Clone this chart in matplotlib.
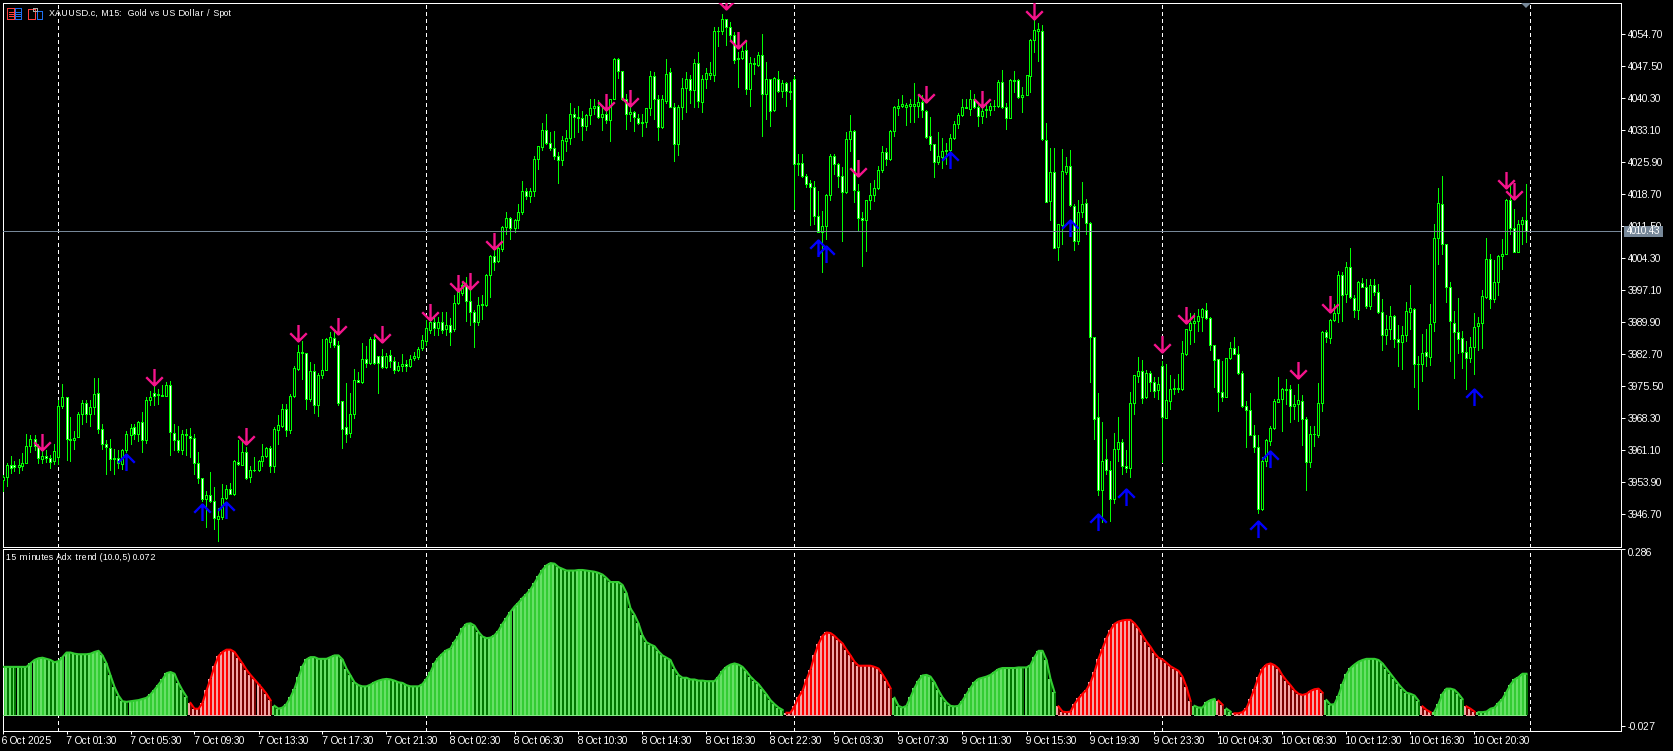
import numpy as np
import matplotlib
matplotlib.use("Agg")
import matplotlib.pyplot as plt
from matplotlib.path import Path
from matplotlib.patches import Rectangle, Polygon

W, H = 1674, 751

opens = [
    3954.4, 3955.1, 3957.9, 3957.9, 3957.4, 3957.6, 3958.3, 3962.1, 3963.7, 3962.1,
    3959.2, 3959.8, 3959.4, 3958.8, 3959.7, 3971.0, 3973.0, 3963.7, 3963.4, 3964.1,
    3969.3, 3971.8, 3969.3, 3970.9, 3974.0, 3966.0, 3962.5, 3961.6, 3959.2, 3959.5,
    3958.0, 3961.1, 3964.6, 3966.4, 3964.8, 3967.5, 3963.5, 3972.5, 3973.9, 3973.5,
    3973.4, 3973.3, 3975.9, 3965.1, 3963.5, 3961.3, 3964.9, 3964.4, 3964.0, 3958.3,
    3955.0, 3950.2, 3951.1, 3949.8, 3945.7, 3946.1, 3950.5, 3952.5, 3951.3, 3958.6,
    3957.9, 3960.8, 3955.1, 3956.6, 3956.8, 3958.8, 3959.8, 3961.7, 3957.6, 3965.7,
    3966.7, 3970.3, 3965.7, 3973.4, 3979.5, 3983.3, 3982.9, 3972.7, 3979.0, 3971.4,
    3978.1, 3979.2, 3985.5, 3986.4, 3984.9, 3972.1, 3966.4, 3965.0, 3969.4, 3977.0,
    3976.5, 3981.7, 3980.8, 3986.2, 3982.4, 3982.4, 3979.9, 3982.5, 3981.1, 3979.1,
    3980.0, 3980.6, 3980.1, 3981.9, 3982.2, 3984.1, 3985.7, 3988.1, 3989.9, 3988.6,
    3989.9, 3988.3, 3989.2, 3988.5, 3994.2, 3996.5, 3998.2, 3994.7, 3992.2, 3990.0,
    3993.9, 3993.7, 4000.6, 4004.7, 4003.6, 4006.3, 4011.4, 4013.4, 4011.1, 4012.9,
    4014.6, 4019.5, 4018.4, 4019.4, 4026.6, 4029.3, 4033.2, 4030.2, 4029.0, 4027.4,
    4026.4, 4030.7, 4031.4, 4036.8, 4036.1, 4035.9, 4034.1, 4036.5, 4038.0, 4038.6,
    4036.1, 4036.8, 4035.3, 4040.2, 4049.2, 4046.3, 4040.1, 4036.8, 4037.1, 4035.9,
    4034.6, 4035.0, 4038.0, 4045.2, 4040.0, 4033.8, 4039.7, 4046.1, 4038.3, 4029.9,
    4038.2, 4042.5, 4044.6, 4042.2, 4048.1, 4039.5, 4044.5, 4045.6, 4045.6, 4055.3,
    4055.4, 4058.0, 4056.3, 4054.5, 4049.0, 4049.4, 4051.2, 4042.4, 4048.3, 4047.8,
    4049.9, 4041.3, 4044.5, 4037.7, 4044.7, 4041.9, 4043.8, 4041.7, 4044.5, 4025.5,
    4025.8, 4022.7, 4021.3, 4020.3, 4013.9, 4010.2, 4011.6, 4018.5, 4027.2, 4025.4,
    4022.8, 4019.1, 4031.2, 4033.0, 4019.5, 4013.4, 4012.9, 4017.5, 4018.5, 4020.1,
    4024.1, 4028.3, 4026.7, 4032.8, 4038.1, 4038.6, 4038.4, 4038.6, 4038.6, 4038.6,
    4039.5, 4037.5, 4031.7, 4030.1, 4026.0, 4027.1, 4028.4, 4028.6, 4031.4, 4034.4,
    4036.4, 4038.1, 4037.9, 4040.2, 4038.2, 4036.3, 4037.6, 4037.6, 4038.5, 4038.5,
    4044.0, 4038.2, 4035.9, 4044.1, 4044.3, 4040.6, 4041.0, 4045.3, 4053.4, 4055.4,
    4055.5, 4031.0, 4017.2, 4023.8, 4006.8, 4011.7, 4023.8, 4025.1, 4016.1, 4008.2,
    4014.6, 4016.8, 4012.3, 3986.5, 3968.6, 3952.1, 3959.2, 3956.7, 3950.1, 3961.4,
    3963.0, 3957.6, 3957.1, 3971.7, 3977.9, 3979.0, 3973.0, 3978.6, 3976.5, 3974.7,
    3980.1, 3968.5, 3972.3, 3975.0, 3975.0, 3974.8, 3982.8, 3988.2, 3989.8, 3990.1,
    3991.2, 3992.7, 3990.9, 3984.9, 3981.6, 3974.3, 3973.1, 3981.8, 3984.2, 3982.8,
    3978.6, 3971.1, 3970.2, 3964.6, 3961.8, 3948.0, 3958.8, 3963.2, 3966.1, 3972.0,
    3972.6, 3974.7, 3975.0, 3971.1, 3971.5, 3972.2, 3968.2, 3958.5, 3964.7, 3964.5,
    3971.7, 3987.8, 3986.4, 3990.4, 3992.0, 4000.6, 3996.2, 4002.4, 3995.4, 3992.7,
    3998.8, 3997.9, 3993.5, 3998.3, 3996.8, 3992.2, 3987.0, 3988.4, 3991.4, 3986.2,
    3985.5, 3987.0, 3992.2, 3993.0, 3980.6, 3980.5, 3983.3, 3982.1, 3990.0, 4008.9,
    4016.6, 4007.4, 3997.8, 3989.7, 3987.8, 3986.4, 3983.2, 3981.9, 3984.3, 3989.1,
    3989.8, 3995.6, 4004.2, 3995.2, 3998.9, 4004.8, 4005.3, 4017.5, 4011.0, 4005.7,
    4012.1, 4012.8,
]
highs = [
    3955.5, 3958.2, 3959.8, 3958.8, 3959.2, 3960.6, 3964.9, 3964.5, 3964.5, 3962.6,
    3961.5, 3961.2, 3960.0, 3962.6, 3972.4, 3976.1, 3973.0, 3968.6, 3965.4, 3969.7,
    3972.5, 3972.5, 3972.4, 3977.4, 3977.4, 3967.1, 3963.5, 3963.7, 3961.5, 3961.1,
    3961.5, 3965.5, 3967.0, 3967.0, 3967.7, 3969.7, 3973.0, 3974.4, 3975.5, 3975.0,
    3975.7, 3976.5, 3976.8, 3967.1, 3966.7, 3965.7, 3966.0, 3966.2, 3964.9, 3960.8,
    3955.0, 3952.0, 3956.2, 3952.9, 3948.1, 3953.6, 3953.4, 3953.8, 3959.0, 3963.4,
    3963.4, 3961.9, 3957.7, 3959.7, 3958.9, 3962.6, 3961.9, 3962.2, 3966.4, 3969.0,
    3971.6, 3971.6, 3973.8, 3980.0, 3984.7, 3985.6, 3983.0, 3981.0, 3980.6, 3978.4,
    3986.2, 3986.4, 3987.7, 3987.7, 3985.6, 3972.2, 3976.2, 3973.9, 3979.5, 3978.7,
    3985.2, 3984.5, 3986.6, 3986.8, 3982.4, 3983.8, 3983.0, 3983.6, 3982.1, 3981.0,
    3982.7, 3981.5, 3982.5, 3983.2, 3984.4, 3987.0, 3990.4, 3990.4, 3991.0, 3991.0,
    3992.2, 3992.2, 3990.8, 3996.0, 3999.3, 3999.0, 4000.1, 3997.1, 3992.6, 3995.7,
    3996.0, 4000.8, 4005.0, 4006.1, 4006.8, 4011.6, 4014.6, 4013.6, 4013.2, 4016.6,
    4021.6, 4020.2, 4020.0, 4027.2, 4029.6, 4034.6, 4036.8, 4032.6, 4032.9, 4028.1,
    4031.7, 4033.1, 4039.2, 4038.0, 4038.6, 4037.5, 4036.8, 4040.2, 4040.1, 4039.8,
    4038.3, 4041.3, 4040.2, 4049.4, 4049.4, 4046.4, 4041.3, 4041.1, 4037.3, 4036.8,
    4036.8, 4038.0, 4046.4, 4046.1, 4041.0, 4041.0, 4049.2, 4047.0, 4039.1, 4038.7,
    4044.9, 4046.1, 4045.4, 4049.0, 4050.6, 4045.4, 4047.0, 4048.4, 4056.3, 4056.3,
    4059.2, 4058.2, 4057.5, 4055.2, 4050.7, 4052.2, 4053.3, 4049.6, 4049.4, 4050.7,
    4054.7, 4048.4, 4044.7, 4045.1, 4046.4, 4044.3, 4044.0, 4044.0, 4045.2, 4027.8,
    4027.8, 4023.3, 4021.8, 4021.7, 4019.4, 4014.9, 4018.8, 4027.7, 4027.7, 4025.8,
    4024.8, 4032.7, 4036.4, 4033.2, 4020.9, 4014.6, 4017.5, 4021.3, 4021.8, 4025.0,
    4029.5, 4029.0, 4033.2, 4038.5, 4040.2, 4041.1, 4039.1, 4040.0, 4043.6, 4041.3,
    4041.0, 4037.6, 4036.0, 4030.1, 4032.7, 4031.4, 4030.2, 4032.3, 4035.2, 4037.0,
    4040.0, 4040.1, 4042.1, 4041.3, 4039.1, 4039.5, 4039.5, 4039.1, 4039.8, 4044.3,
    4046.7, 4039.1, 4044.5, 4046.4, 4044.5, 4042.8, 4045.6, 4053.5, 4057.8, 4057.1,
    4056.7, 4034.6, 4029.0, 4029.0, 4012.1, 4028.8, 4027.1, 4028.6, 4016.4, 4017.3,
    4021.5, 4017.7, 4012.5, 3986.6, 3974.1, 3967.4, 3963.6, 3958.8, 3965.1, 3968.7,
    3963.7, 3961.3, 3974.3, 3978.1, 3982.0, 3981.5, 3979.1, 3978.9, 3977.7, 3977.6,
    3981.3, 3980.6, 3978.0, 3977.1, 3978.3, 3985.8, 3988.5, 3992.0, 3992.0, 3993.0,
    3993.2, 3994.3, 3991.1, 3984.9, 3981.7, 3981.1, 3981.9, 3985.5, 3986.7, 3984.6,
    3978.9, 3972.3, 3974.0, 3966.9, 3964.5, 3959.7, 3963.7, 3966.7, 3972.6, 3977.7,
    3975.1, 3977.1, 3975.7, 3973.5, 3976.1, 3973.5, 3968.6, 3966.6, 3966.7, 3976.2,
    3987.9, 3988.1, 3990.7, 3994.1, 4001.4, 4001.2, 4003.5, 4006.7, 3996.0, 3999.2,
    3999.9, 3999.7, 3999.7, 3999.7, 3998.6, 3995.2, 3991.5, 3993.5, 3991.5, 3989.4,
    3989.0, 3994.4, 3998.2, 3993.2, 3982.4, 3987.2, 3988.4, 3994.1, 4011.9, 4020.0,
    4022.9, 4007.6, 3998.9, 3992.4, 3995.3, 3987.9, 3985.8, 3986.7, 3992.1, 3991.1,
    3997.1, 4008.9, 4005.2, 4003.8, 4005.0, 4008.6, 4017.7, 4021.1, 4015.4, 4013.0,
    4013.6, 4020.9,
]
lows = [
    3952.0, 3953.0, 3956.0, 3956.4, 3956.0, 3956.8, 3958.3, 3960.7, 3961.1, 3958.2,
    3958.3, 3958.5, 3957.1, 3958.0, 3958.1, 3970.7, 3959.0, 3958.7, 3961.5, 3964.1,
    3967.1, 3967.5, 3966.5, 3969.4, 3965.0, 3961.5, 3955.8, 3956.7, 3955.8, 3957.2,
    3957.0, 3960.7, 3962.6, 3963.7, 3963.2, 3960.7, 3962.7, 3971.2, 3971.2, 3971.6,
    3973.3, 3973.3, 3960.0, 3961.2, 3960.7, 3960.2, 3960.0, 3959.6, 3955.9, 3953.8,
    3949.7, 3943.9, 3949.5, 3943.5, 3940.7, 3945.7, 3950.2, 3951.2, 3951.0, 3957.9,
    3957.9, 3954.7, 3954.0, 3956.4, 3956.4, 3957.5, 3959.6, 3956.2, 3956.2, 3962.6,
    3966.4, 3964.3, 3965.0, 3973.1, 3979.2, 3977.2, 3970.3, 3972.3, 3969.5, 3968.8,
    3977.4, 3979.1, 3984.4, 3984.4, 3971.4, 3961.6, 3963.0, 3964.2, 3968.4, 3976.5,
    3976.3, 3979.9, 3980.6, 3980.6, 3974.0, 3979.7, 3979.7, 3979.9, 3978.4, 3978.9,
    3978.9, 3978.9, 3979.9, 3981.4, 3981.7, 3983.6, 3984.8, 3987.5, 3987.0, 3987.0,
    3987.5, 3987.0, 3984.8, 3988.0, 3994.0, 3996.0, 3990.3, 3989.2, 3984.3, 3989.2,
    3990.7, 3993.5, 3995.6, 4001.7, 4003.5, 4005.9, 4009.8, 4008.6, 4010.2, 4011.2,
    4014.3, 4017.7, 4016.9, 4018.4, 4024.3, 4028.6, 4029.9, 4028.6, 4026.7, 4021.2,
    4025.2, 4028.4, 4029.9, 4031.6, 4032.7, 4030.8, 4033.1, 4034.4, 4036.8, 4035.9,
    4033.1, 4034.6, 4030.7, 4040.0, 4044.9, 4039.8, 4033.3, 4035.2, 4033.0, 4034.4,
    4031.7, 4033.8, 4036.5, 4035.6, 4030.8, 4033.6, 4039.1, 4038.2, 4026.1, 4027.5,
    4035.6, 4037.2, 4039.2, 4038.2, 4038.2, 4037.2, 4042.5, 4044.6, 4044.2, 4052.1,
    4054.8, 4052.2, 4053.5, 4048.3, 4042.8, 4049.2, 4041.2, 4038.5, 4045.7, 4047.6,
    4031.8, 4035.6, 4034.1, 4037.4, 4041.7, 4040.6, 4038.6, 4040.1, 4015.3, 4023.0,
    4022.6, 4020.3, 4011.7, 4012.1, 4010.1, 4001.2, 4008.6, 4017.3, 4023.3, 4020.3,
    4008.2, 4019.0, 4028.4, 4017.0, 4010.4, 4002.6, 4006.0, 4015.3, 4017.1, 4019.9,
    4023.7, 4025.2, 4026.5, 4031.7, 4036.5, 4038.2, 4034.2, 4034.9, 4034.9, 4036.0,
    4036.0, 4031.4, 4028.7, 4022.6, 4025.6, 4024.6, 4025.6, 4028.4, 4031.1, 4033.5,
    4036.3, 4038.0, 4036.5, 4038.0, 4034.0, 4034.7, 4036.1, 4036.5, 4037.6, 4038.3,
    4038.0, 4033.3, 4035.8, 4041.7, 4040.4, 4037.2, 4040.9, 4041.6, 4050.7, 4048.7,
    4031.0, 4016.9, 4012.8, 4006.5, 4003.8, 4007.4, 4023.3, 4016.1, 4006.2, 4007.6,
    4013.6, 4009.8, 3976.5, 3963.7, 3951.0, 3945.0, 3955.7, 3945.2, 3949.2, 3958.8,
    3955.7, 3956.2, 3955.1, 3969.4, 3976.4, 3971.7, 3972.9, 3974.4, 3973.1, 3972.7,
    3958.5, 3968.4, 3970.5, 3973.7, 3974.2, 3974.6, 3982.6, 3985.0, 3985.5, 3987.9,
    3987.9, 3990.7, 3983.6, 3975.3, 3969.9, 3972.1, 3973.0, 3981.7, 3982.7, 3978.3,
    3970.8, 3961.8, 3964.5, 3960.7, 3947.0, 3947.8, 3957.7, 3962.4, 3966.0, 3971.9,
    3965.4, 3971.6, 3967.5, 3968.2, 3967.8, 3962.4, 3952.3, 3957.3, 3962.2, 3964.1,
    3969.9, 3985.4, 3985.2, 3990.3, 3990.0, 3990.3, 3994.5, 3995.4, 3991.2, 3990.6,
    3997.8, 3993.2, 3993.0, 3996.0, 3992.0, 3983.6, 3985.0, 3986.2, 3984.3, 3980.0,
    3979.3, 3985.8, 3988.4, 3975.3, 3970.4, 3976.7, 3980.0, 3980.4, 3987.9, 4002.9,
    4005.2, 3994.5, 3981.3, 3977.3, 3983.0, 3979.6, 3974.8, 3981.0, 3978.3, 3983.6,
    3984.1, 3995.4, 3993.1, 3994.5, 3996.0, 4001.8, 4005.2, 4009.7, 4005.6, 4005.6,
    4007.4, 4008.0,
]
closes = [
    3955.1, 3957.9, 3957.2, 3957.4, 3957.9, 3958.3, 3962.1, 3963.7, 3962.2, 3959.4,
    3959.8, 3959.4, 3958.5, 3961.0, 3971.0, 3973.2, 3963.7, 3963.4, 3964.0, 3969.4,
    3971.8, 3969.3, 3970.9, 3973.8, 3966.0, 3962.5, 3961.8, 3959.2, 3959.5, 3958.2,
    3961.2, 3964.7, 3966.2, 3964.8, 3967.5, 3963.5, 3972.5, 3973.2, 3973.4, 3973.8,
    3973.5, 3975.9, 3965.2, 3963.5, 3961.3, 3964.7, 3964.5, 3964.0, 3958.3, 3955.0,
    3950.2, 3951.1, 3949.8, 3946.0, 3946.4, 3950.5, 3952.5, 3951.3, 3958.8, 3958.1,
    3960.8, 3955.0, 3956.8, 3956.8, 3958.8, 3959.8, 3961.7, 3957.6, 3966.0, 3966.9,
    3970.3, 3965.7, 3973.4, 3979.6, 3983.3, 3982.9, 3972.7, 3979.0, 3971.4, 3978.1,
    3979.2, 3986.1, 3986.5, 3984.9, 3971.8, 3966.0, 3964.9, 3969.4, 3977.0, 3976.5,
    3981.7, 3980.8, 3986.2, 3980.7, 3980.8, 3979.9, 3982.4, 3981.1, 3979.2, 3980.0,
    3980.6, 3980.1, 3981.7, 3982.4, 3984.0, 3985.9, 3988.6, 3989.9, 3988.6, 3989.9,
    3988.1, 3989.2, 3987.7, 3994.2, 3996.7, 3998.2, 3994.7, 3992.2, 3990.0, 3993.9,
    3994.1, 4000.6, 4004.7, 4003.5, 4006.5, 4011.4, 4013.4, 4011.2, 4013.0, 4014.6,
    4019.5, 4018.4, 4019.5, 4026.7, 4029.5, 4033.2, 4030.2, 4029.0, 4027.3, 4026.4,
    4030.8, 4031.4, 4036.8, 4036.1, 4035.9, 4034.1, 4036.6, 4038.0, 4038.6, 4036.1,
    4036.8, 4035.3, 4040.2, 4049.2, 4046.3, 4040.1, 4036.8, 4037.1, 4036.1, 4034.6,
    4035.0, 4038.0, 4045.2, 4040.0, 4033.9, 4040.0, 4045.8, 4038.3, 4029.9, 4038.2,
    4042.5, 4044.5, 4042.2, 4048.1, 4039.7, 4044.5, 4046.0, 4046.0, 4055.3, 4055.5,
    4058.0, 4056.3, 4054.5, 4048.9, 4049.4, 4051.0, 4042.4, 4048.3, 4047.9, 4049.9,
    4041.3, 4044.7, 4037.4, 4044.9, 4041.9, 4043.8, 4041.9, 4042.0, 4025.6, 4025.8,
    4022.7, 4021.0, 4020.3, 4013.9, 4010.2, 4011.6, 4018.6, 4027.2, 4025.4, 4022.8,
    4019.1, 4031.2, 4033.0, 4019.6, 4013.4, 4012.9, 4017.4, 4018.6, 4020.2, 4024.2,
    4028.3, 4026.7, 4032.8, 4038.2, 4038.6, 4038.9, 4038.7, 4038.9, 4038.9, 4039.5,
    4037.6, 4031.6, 4030.1, 4026.0, 4027.2, 4028.5, 4028.7, 4031.4, 4034.4, 4036.6,
    4038.4, 4038.3, 4040.2, 4038.2, 4036.2, 4037.3, 4037.9, 4038.6, 4038.6, 4044.0,
    4038.2, 4035.9, 4044.3, 4044.3, 4040.6, 4041.1, 4045.4, 4053.3, 4055.7, 4055.8,
    4031.2, 4017.0, 4023.8, 4006.6, 4011.9, 4024.0, 4025.1, 4016.3, 4008.2, 4014.6,
    4016.6, 4012.3, 3986.5, 3968.2, 3952.2, 3958.8, 3956.7, 3950.2, 3961.5, 3963.0,
    3957.6, 3957.1, 3971.8, 3978.0, 3979.0, 3972.9, 3978.6, 3976.5, 3974.5, 3976.1,
    3968.7, 3972.4, 3975.0, 3975.1, 3975.1, 3983.1, 3988.3, 3989.8, 3990.2, 3991.3,
    3992.8, 3990.9, 3984.8, 3981.5, 3974.2, 3973.2, 3981.9, 3984.2, 3982.8, 3978.5,
    3971.1, 3970.2, 3964.6, 3961.8, 3948.0, 3958.8, 3963.5, 3966.2, 3972.3, 3972.7,
    3974.8, 3974.8, 3971.1, 3971.6, 3972.5, 3968.1, 3958.5, 3964.8, 3964.8, 3971.8,
    3987.8, 3986.6, 3990.5, 3992.0, 4000.6, 3996.1, 4002.4, 3995.5, 3992.6, 3998.9,
    3997.9, 3993.5, 3998.3, 3996.8, 3992.2, 3987.0, 3988.5, 3991.4, 3986.2, 3985.5,
    3987.1, 3992.5, 3993.2, 3980.6, 3980.5, 3983.1, 3982.4, 3989.6, 4008.9, 4016.8,
    4007.4, 3997.8, 3990.3, 3987.8, 3986.1, 3983.2, 3981.9, 3984.3, 3988.9, 3989.8,
    3995.9, 4004.2, 3995.2, 3999.0, 4004.7, 4005.3, 4017.5, 4011.1, 4005.7, 4012.1,
    4013.0, 4010.43,
]

adx = [
    .084, .084, .084, .084, .084, .084, .084, .090, .096, .099,
    .100, .098, .096, .092, .094, .101, .109, .109, .107, .106,
    .106, .106, .107, .110, .112, .104, .090, .069, .049, .034,
    .024, .023, .024, .025, .026, .028, .030, .036, .044, .053,
    .062, .073, .075, .072, .056, .043, .032, .021, .011, .011,
    .021, .043, .063, .085, .103, .110, .114, .114, .110, .100,
    .090, .079, .070, .062, .054, .046, .037, .026, .016, .011,
    .013, .019, .031, .046, .066, .085, .097, .101, .101, .098,
    .098, .098, .101, .104, .104, .097, .081, .069, .057, .052,
    .050, .050, .053, .057, .060, .062, .063, .062, .060, .057,
    .056, .052, .050, .050, .050, .054, .063, .075, .090, .100,
    .107, .113, .116, .128, .137, .151, .159, .160, .156, .145,
    .137, .134, .135, .139, .147, .159, .169, .180, .189, .196,
    .204, .211, .219, .230, .242, .253, .261, .265, .264, .258,
    .255, .252, .252, .252, .253, .253, .252, .251, .250, .248,
    .245, .239, .232, .232, .232, .227, .213, .186, .175, .160,
    .139, .127, .123, .120, .111, .104, .100, .096, .081, .070,
    .065, .065, .062, .062, .060, .060, .059, .059, .059, .067,
    .077, .084, .088, .090, .088, .084, .076, .067, .060, .054,
    .045, .036, .026, .019, .013, .009, .004, .004, .015, .031,
    .042, .062, .079, .104, .124, .138, .144, .143, .138, .131,
    .125, .114, .104, .093, .086, .086, .086, .086, .084, .081,
    .071, .060, .047, .030, .016, .013, .016, .031, .047, .060,
    .069, .070, .067, .057, .043, .031, .022, .016, .015, .016,
    .025, .036, .047, .057, .063, .065, .067, .070, .075, .080,
    .082, .082, .082, .082, .083, .083, .083, .087, .101, .112,
    .112, .096, .063, .040, .015, .006, .005, .006, .019, .029,
    .037, .044, .057, .075, .098, .116, .134, .148, .159, .163,
    .165, .166, .166, .160, .151, .139, .128, .119, .108, .100,
    .097, .091, .085, .081, .077, .067, .049, .025, .016, .013,
    .013, .022, .026, .028, .025, .018, .011, .006, .003, .003,
    .005, .012, .028, .046, .066, .081, .088, .090, .087, .081,
    .069, .060, .052, .043, .037, .035, .037, .042, .045, .046,
    .039, .026, .018, .019, .034, .054, .071, .082, .088, .093,
    .096, .098, .098, .098, .096, .090, .081, .072, .063, .054,
    .046, .039, .037, .034, .025, .015, .009, .005, .006, .019,
    .037, .046, .046, .044, .037, .028, .015, .011, .006, .005,
    .005, .006, .011, .013, .021, .028, .040, .053, .062, .066,
    .072, .072,
]
# bar ranges where the indicator is red (first, last)
red_ranges = [(47, 67), (196, 222), (264, 297), (304, 305), (308, 330), (355, 357), (366, 368)]

down_bars = [10, 38, 61, 74, 84, 95, 107, 114, 117, 123, 151, 157, 181, 184, 214, 231, 245, 258, 290, 296, 324, 332, 376, 378]
down_prices = [3961.2, 3975.8, 3962.6, 3985.7, 3987.3, 3985.5, 3990.5, 3996.9, 3997.5, 4006.4, 4037.7, 4038.6, 4060.3,
               4051.6, 4022.9, 4039.5, 4038.2, 4058.2, 3983.2, 3989.8, 3977.4, 3992.3, 4020.0, 4017.7]
up_bars = [31, 50, 56, 204, 206, 237, 267, 274, 281, 314, 317, 368]
up_prices = [3960.3, 3949.1, 3949.5, 4008.3, 4007.0, 4028.2, 4013.0, 3946.7, 3952.5, 3945.3, 3960.9, 3975.0]

price_ticks = [4054.70, 4047.50, 4040.30, 4033.10, 4025.90, 4018.70, 4011.50, 4004.30, 3997.10, 3989.90,
               3982.70, 3975.50, 3968.30, 3961.10, 3953.90, 3946.70]
time_labels = ["6 Oct 2025", "7 Oct 01:30", "7 Oct 05:30", "7 Oct 09:30", "7 Oct 13:30", "7 Oct 17:30", "7 Oct 21:30",
               "8 Oct 02:30", "8 Oct 06:30", "8 Oct 10:30", "8 Oct 14:30", "8 Oct 18:30", "8 Oct 22:30", "9 Oct 03:30",
               "9 Oct 07:30", "9 Oct 11:30", "9 Oct 15:30", "9 Oct 19:30", "9 Oct 23:30", "10 Oct 04:30", "10 Oct 08:30",
               "10 Oct 12:30", "10 Oct 16:30", "10 Oct 20:30"]
day_lines = [14, 106, 198, 290, 382]
last_price = 4010.43

plt.rcParams['font.family'] = ['Liberation Sans', 'DejaVu Sans']
plt.rcParams['text.hinting'] = 'force_autohint'
plt.rcParams['text.hinting_factor'] = 1
FS = 7.0
TITLE_FS = 6.4
PX = 0.72  # one pixel in points at dpi 100

opens, highs, lows, closes = map(np.array, (opens, highs, lows, closes))
adx = np.array(adx)
bars = np.arange(len(closes))

fig = plt.figure(figsize=(W / 100, H / 100), dpi=100, facecolor='black')


def pixel_axes(left, top, right, bottom):
    return fig.add_axes([left / W, 1 - bottom / H, (right - left) / W, (bottom - top) / H], facecolor='black')


ax = pixel_axes(2.5, 2.5, 1621.5, 546.5)
ax2 = pixel_axes(2.5, 548.5, 1621.5, 730.5)

xlim = (0, 1619 / 4)
for a in (ax, ax2):
    a.set_xlim(*xlim)
    for s in a.spines.values():
        s.set_color('white')
        s.set_linewidth(PX)
    for x in day_lines:
        a.axvline(x, color='white', lw=PX, ls=(0, (3, 3)), zorder=1, antialiased=False)

# candles
ax.set_ylim(3939.5, 4061.8)
ax.vlines(bars, lows, highs, color='#00ff00', lw=PX, zorder=3, antialiased=False)
body_low = np.minimum(opens, closes)
body_h = np.abs(closes - opens)
fills = ['black' if c >= o else 'white' for o, c in zip(opens, closes)]
ax.bar(bars, body_h, bottom=body_low, width=0.5, color=fills, edgecolor='#00ff00', linewidth=PX, zorder=4,
       antialiased=False)

ax.axhline(last_price, color='#778899', lw=PX, zorder=5, antialiased=False)

# signal arrows: tip at the origin, shaft and head as one open path
down_arrow = Path([(0, 1), (0, 0), (-0.5, 0.5), (0, 0), (0.5, 0.5)],
                  [Path.MOVETO, Path.LINETO, Path.MOVETO, Path.LINETO, Path.LINETO])
up_arrow = Path([(0, -1), (0, 0), (-0.5, -0.5), (0, 0), (0.5, -0.5)],
                [Path.MOVETO, Path.LINETO, Path.MOVETO, Path.LINETO, Path.LINETO])
ax.plot(down_bars, down_prices, ls='none', marker=down_arrow, ms=23.8, mfc='none', mec='#f5148c', mew=1.7, zorder=6)
ax.plot(up_bars, up_prices, ls='none', marker=up_arrow, ms=23.8, mfc='none', mec='#0000ff', mew=1.7, zorder=6)

ax.set_xticks([])
ax.yaxis.tick_right()
ax.set_yticks(price_ticks)
ax.set_yticklabels(['%.2f' % t for t in price_ticks])
ax.tick_params(axis='y', length=3, width=PX, color='white', labelcolor='white', labelsize=FS, pad=1.5)

fig.add_artist(Rectangle((1624 / W, 1 - 237 / H), 39 / W, 11 / H, transform=fig.transFigure, facecolor='#778899',
                         edgecolor='none', zorder=9))
fig.text(1627 / W, 1 - 231.5 / H, '%.2f' % last_price, color='white', fontsize=FS, va='center', zorder=10)

fig.text(49 / W, 1 - 13.3 / H, 'XAUUSD.c, M15:  Gold vs US Dollar / Spot', color='white', fontsize=TITLE_FS, va='center', zorder=10)
fig.text(6 / W, 1 - 557.6 / H, '15 minutes Adx trend (10.0,5) 0.072', color='white', fontsize=TITLE_FS, va='center', zorder=10)


def px_rect(x0, y0, x1, y1, ec, fc='none'):
    fig.add_artist(Rectangle((x0 / W, 1 - y1 / H), (x1 - x0) / W, (y1 - y0) / H, transform=fig.transFigure,
                             edgecolor=ec, facecolor=fc, linewidth=PX, antialiased=False, zorder=10))


# toolbar icons at the top left
px_rect(7.5, 8.5, 14.5, 18.5, '#ff4040')
px_rect(15.5, 8.5, 21.5, 18.5, '#2070f0')
for yy in (11.5, 13.5, 15.5):
    px_rect(9, yy, 13, yy, '#ff4040')
    px_rect(16.5, yy, 20.5, yy, '#2070f0')
px_rect(28.5, 9.5, 35.5, 18.5, '#ff4040')
px_rect(37.5, 10.5, 42.5, 18.5, '#2070f0')
px_rect(33.5, 8, 37.5, 10.5, '#aaaaaa')

fig.add_artist(Polygon([(1521 / W, 1 - 3 / H), (1531 / W, 1 - 3 / H), (1526 / W, 1 - 8 / H)], closed=True,
                       transform=fig.transFigure, facecolor='#778899', edgecolor='none', zorder=10))

# indicator panel
is_red = np.zeros(len(adx), dtype=bool)
for first, last in red_ranges:
    is_red[first:last + 1] = True
rising = np.r_[True, np.diff(adx) > 0]
light = np.where(is_red, '#f2a6a6', '#66e066')
dark = np.select([is_red & rising, is_red, rising], ['#ff0000', '#7a0000', '#33cc33'], '#007700')
ax2.set_ylim(-0.027, 0.2905)
# light bar fills the whole slot, darker half stripe on top so no black gaps show
ax2.bar(bars, adx, width=1.0, color=light, linewidth=0, zorder=2, antialiased=False)
ax2.bar(bars + 0.25, adx, width=0.5, color=dark, linewidth=0, zorder=2.5, antialiased=False)
ax2.plot(bars, np.where(is_red, np.nan, 0), color='#80e880', lw=PX, zorder=3, antialiased=False)
ax2.plot(bars, np.where(is_red, 0, np.nan), color='#f2a6a6', lw=PX, zorder=3, antialiased=False)
ax2.plot(bars, np.where(is_red, np.nan, adx), color='#32cd32', lw=1.5, zorder=4)
ax2.plot(bars, np.where(is_red, adx, np.nan), color='#ff0000', lw=1.5, zorder=5)

ax2.yaxis.tick_right()
ax2.set_yticks([0.2905, -0.0188])
ax2.set_yticklabels(['0.286', '-0.027'])
ax2.get_yticklabels()[0].set_va('top')
ax2.tick_params(axis='y', length=3, width=PX, color='white', labelcolor='white', labelsize=FS, pad=1.5)
ax2.set_xticks(np.arange(len(time_labels)) * 16)
ax2.set_xticklabels(time_labels, ha='left')
ax2.tick_params(axis='x', length=2.2, width=PX, color='white', labelcolor='white', labelsize=FS, pad=1.5)

fig.savefig('out.png', dpi=100, facecolor='black')
